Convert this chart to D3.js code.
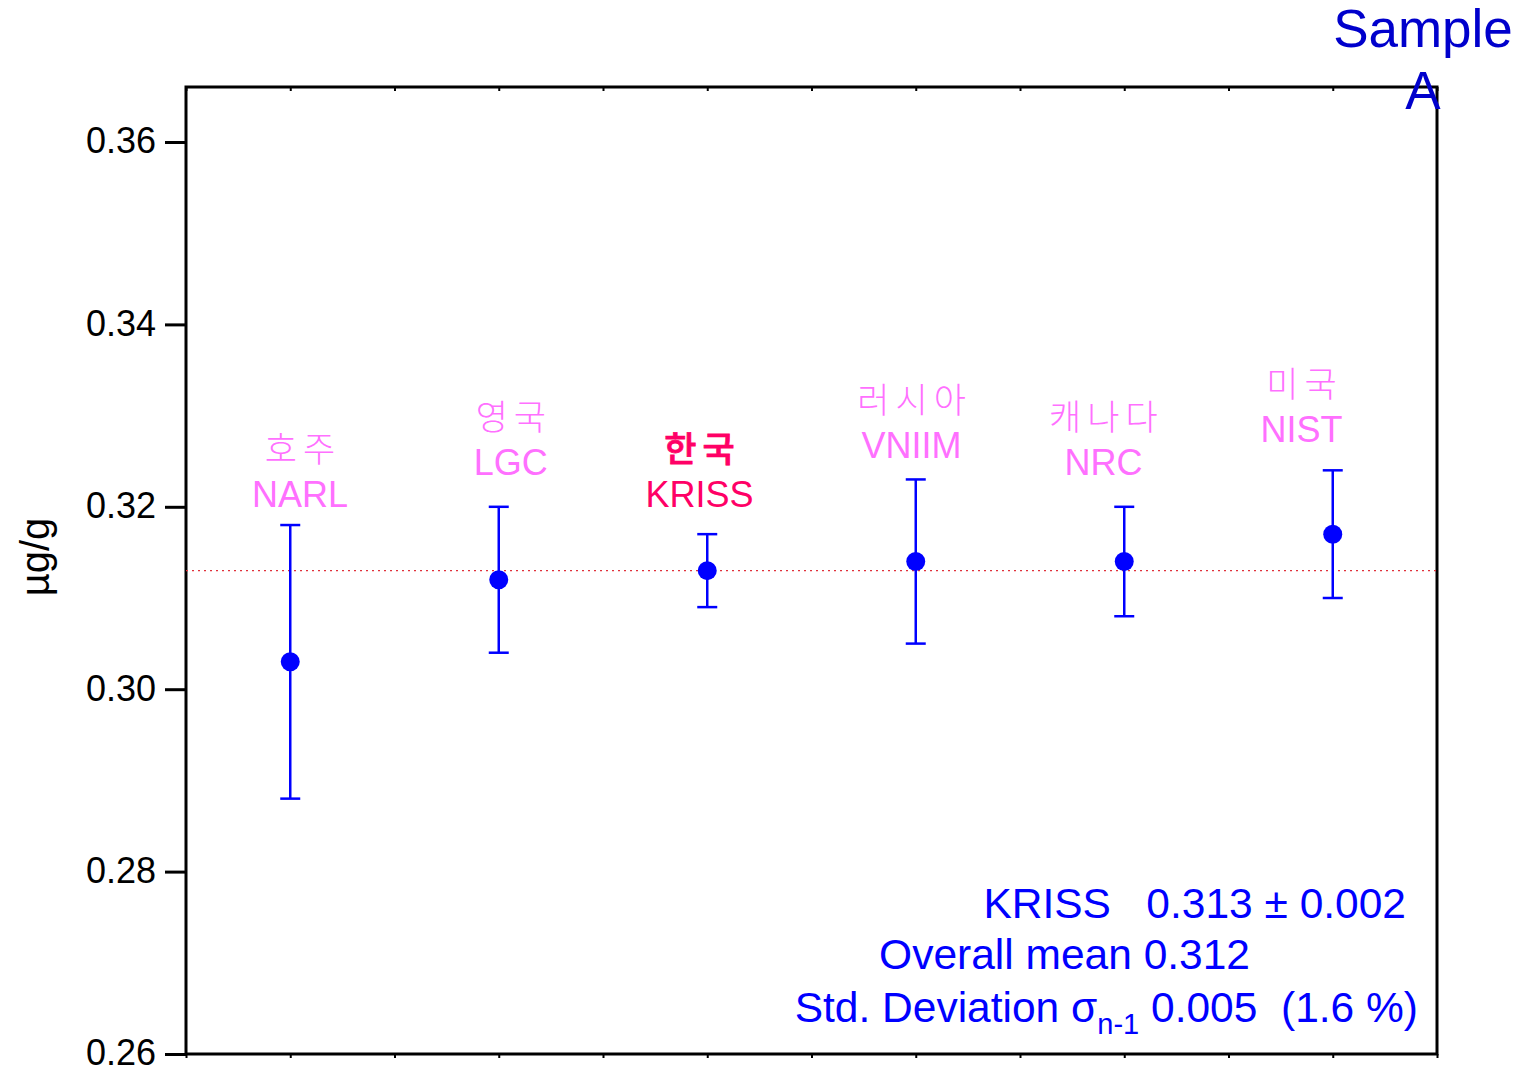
<!DOCTYPE html>
<html>
<head>
<meta charset="utf-8">
<script src="https://cdn.jsdelivr.net/npm/d3@7"></script>
<style>
  html, body { margin: 0; padding: 0; background: #fff; }
  svg text { font-family: "Liberation Sans", Arial, sans-serif; }
  .kr { font-family: "Noto Sans CJK KR", sans-serif; }
</style>
</head>
<body>
<svg id="chart" width="1521" height="1072"></svg>
<script>
// Participating laboratories (Korean country name + institute)
const countries = ["호주", "영국", "한국", "러시아", "캐나다", "미국"];
const labs = ["NARL", "LGC", "KRISS", "VNIIM", "NRC", "NIST"];
// Reported value and expanded uncertainty, µg/g
const values = [0.303, 0.312, 0.313, 0.314, 0.314, 0.317];
const uncertainties = [0.015, 0.008, 0.004, 0.009, 0.006, 0.007];
// Label anchors in data units (x = category position, y = baseline value)
const labelPos = [1.047, 2.058, 2.963, 3.98, 4.90, 5.85];
const labelAt = [0.3200, 0.3235, 0.3200, 0.3254, 0.3235, 0.3271];
const yTicks = [0.26, 0.28, 0.30, 0.32, 0.34, 0.36];
const referenceValue = 0.313;
const summaryLines = [
  "KRISS   0.313 \u00b1 0.002",
  "Overall mean 0.312"
];

const svg = d3.select("#chart");
const m = { left: 186, right: 1437, top: 87, bottom: 1054 };

const x = d3.scaleLinear().domain([0.5, 6.5]).range([m.left, m.right]);
const y = d3.scaleLinear().domain([0.26, 0.36]).range([m.bottom, 142]);

// Frame
svg.append("rect")
  .attr("x", m.left).attr("y", m.top)
  .attr("width", m.right - m.left).attr("height", m.bottom - m.top)
  .attr("fill", "none").attr("stroke", "#000").attr("stroke-width", 3);

// Left axis with outward ticks
const yAxis = d3.axisLeft(y).tickValues(yTicks).tickFormat(d3.format(".2f"))
  .tickSize(21).tickPadding(9);
const gy = svg.append("g").attr("transform", `translate(${m.left},0)`).call(yAxis);
gy.select(".domain").remove();
gy.selectAll(".tick line").attr("stroke", "#000").attr("stroke-width", 3);
gy.selectAll(".tick text").attr("fill", "#000")
  .attr("dy", "0.3em")
  .style("font-size", "36px").style("font-family", "'Liberation Sans', Arial, sans-serif");

// Small ticks along bottom and top edges
const xTickVals = d3.range(0.5, 6.51, 0.5);
const gb = svg.append("g").attr("transform", `translate(0,${m.bottom})`)
  .call(d3.axisBottom(x).tickValues(xTickVals).tickFormat("").tickSize(4));
gb.select(".domain").remove();
gb.selectAll(".tick line").attr("stroke", "#000").attr("stroke-width", 2);
const gt = svg.append("g").attr("transform", `translate(0,${m.top})`)
  .call(d3.axisBottom(x).tickValues(xTickVals).tickFormat("").tickSize(4));
gt.select(".domain").remove();
gt.selectAll(".tick line").attr("stroke", "#000").attr("stroke-width", 2);

// Y axis title
svg.append("text")
  .attr("transform", "translate(49,557) rotate(-90)")
  .attr("text-anchor", "middle")
  .style("font-size", "40px").attr("fill", "#000")
  .text("\u00b5g/g");

// Reference line (KRISS value)
svg.append("line")
  .attr("x1", m.left).attr("x2", m.right)
  .attr("y1", y(referenceValue)).attr("y2", y(referenceValue))
  .attr("stroke", "#e0303a").attr("stroke-width", 1.2)
  .attr("stroke-dasharray", "2,4");

const data = labs.map((lab, i) => ({
  lab, country: countries[i], v: values[i], u: uncertainties[i],
  lx: labelPos[i], ly: labelAt[i], i
}));

// Error bars and points
const g = svg.append("g");
const cap = 10;
data.forEach(d => {
  const cx = x(d.i + 1);
  g.append("line").attr("x1", cx).attr("x2", cx)
    .attr("y1", y(d.v - d.u)).attr("y2", y(d.v + d.u))
    .attr("stroke", "#0000ff").attr("stroke-width", 2.5);
  [d.v - d.u, d.v + d.u].forEach(e => {
    g.append("line").attr("x1", cx - cap).attr("x2", cx + cap)
      .attr("y1", y(e)).attr("y2", y(e))
      .attr("stroke", "#0000ff").attr("stroke-width", 2.5);
  });
  g.append("circle").attr("cx", cx).attr("cy", y(d.v)).attr("r", 9.5)
    .attr("fill", "#0000ff");
});

// Laboratory labels
data.forEach(d => {
  const cx = x(d.lx);
  const isKriss = d.lab === "KRISS";
  const col = isKriss ? "#ff0066" : "#ff70ff";
  svg.append("text").attr("class", "kr")
    .attr("x", cx).attr("dx", 3).attr("y", y(d.ly) - 45)
    .attr("text-anchor", "middle").attr("fill", col)
    .style("font-size", "35px")
    .style("letter-spacing", "6px")
    .style("font-weight", isKriss ? "500" : "300")
    .style("stroke", isKriss ? col : "none")
    .style("stroke-width", isKriss ? 0.8 : 0)
    .text(d.country);
  svg.append("text")
    .attr("x", cx).attr("y", y(d.ly))
    .attr("text-anchor", "middle").attr("fill", col)
    .style("font-size", "36px")
    .text(d.lab);
});

// Summary statistics
const sumX = [1406, 1250];
const sumY = [918, 969];
summaryLines.forEach((t, i) => {
  svg.append("text").attr("x", sumX[i]).attr("y", sumY[i])
    .attr("text-anchor", "end").attr("fill", "#0000ff")
    .style("font-size", "42.5px")
    .style("white-space", "pre")
    .text(t);
});
const sd = svg.append("text").attr("x", 1418).attr("y", 1022)
  .attr("text-anchor", "end").attr("fill", "#0000ff")
  .style("font-size", "42.5px").style("white-space", "pre");
sd.append("tspan").text("Std. Deviation \u03c3");
sd.append("tspan").attr("dy", 12).style("font-size", "29px").text("n-1");
sd.append("tspan").attr("dy", -12).text(" 0.005  (1.6 %)");

// Sample title
const title = svg.append("text").attr("fill", "#0000cc")
  .attr("text-anchor", "middle").style("font-size", "53px");
title.append("tspan").attr("x", 1423).attr("y", 47).text("Sample");
title.append("tspan").attr("x", 1423).attr("y", 109).text("A");
</script>
</body>
</html>
